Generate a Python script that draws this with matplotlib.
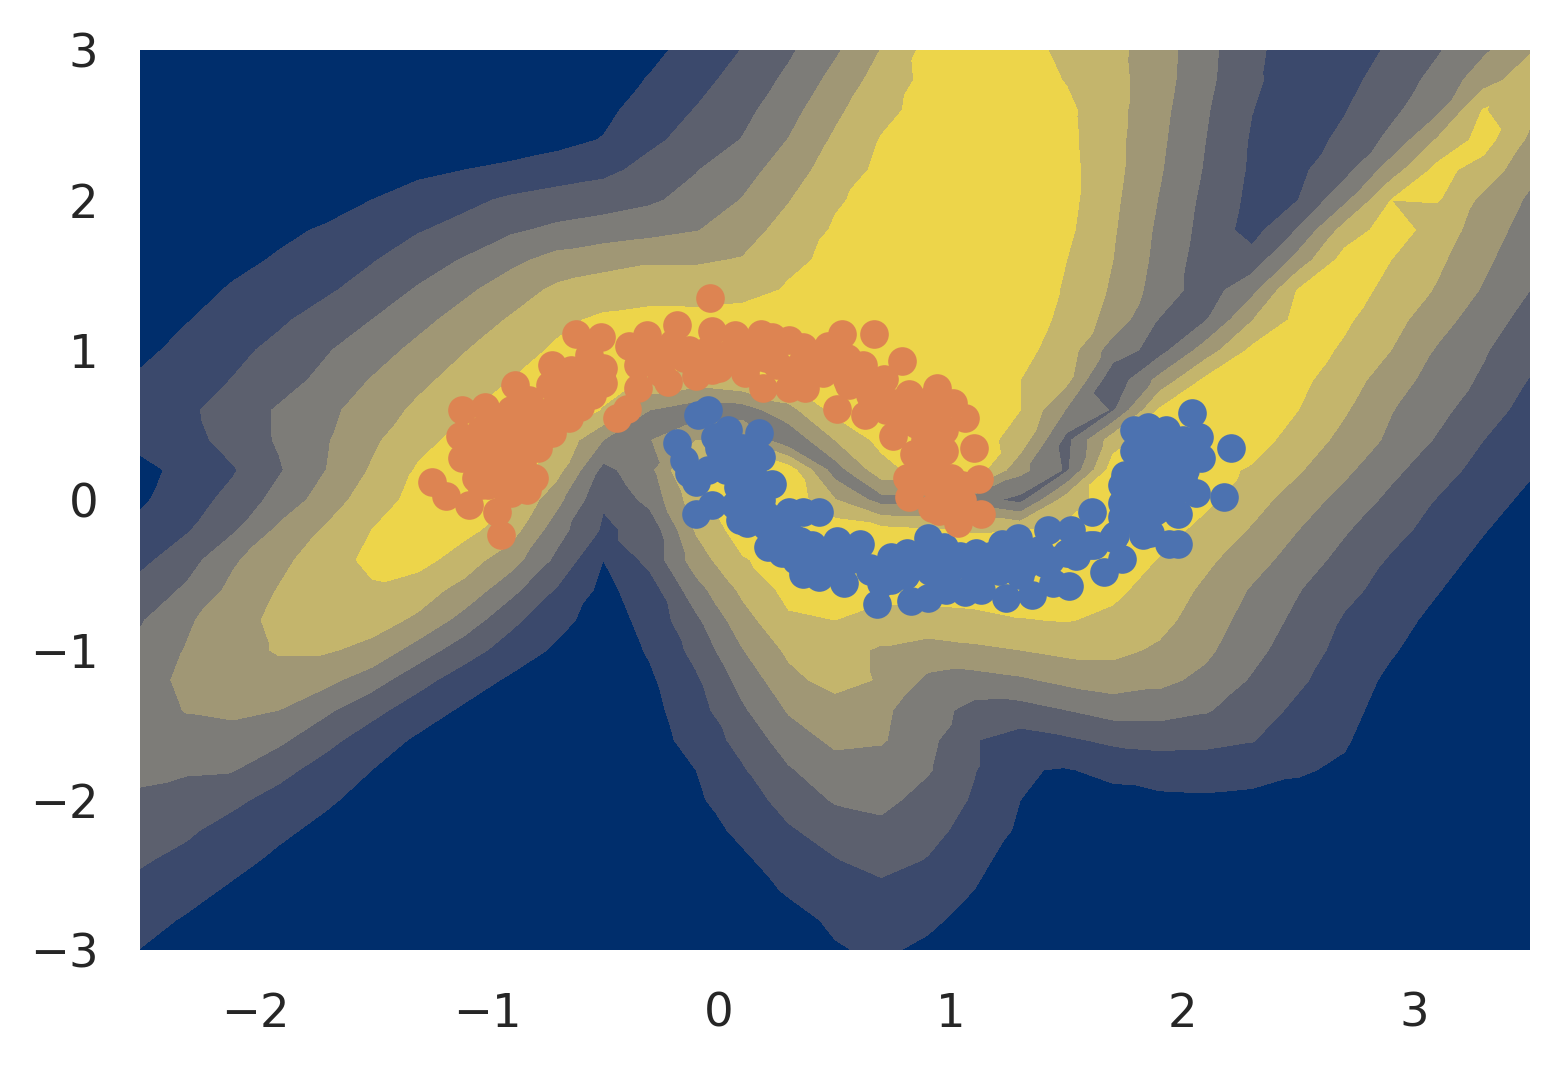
import numpy as np
import matplotlib
matplotlib.use("Agg")
import matplotlib.pyplot as plt
from matplotlib.tri import Triangulation

xticks = [-2, -1, 0, 1, 2, 3]
yticks = [-3, -2, -1, 0, 1, 2, 3]
levels = [0, 1, 2, 3, 4, 5, 6, 7]
band_colors = ['#002e6c', '#3b496c', '#5c606e', '#7d7c78', '#a09775', '#c4b56c', '#edd54a']
grid_x = [-2.5 + 0.2 * i for i in range(31)]
grid_y = [3.0 - 0.2 * i for i in range(31)]

field = [
 [.2,.2,.2,.2,.2,.2,.2,.2,.2,.2,.3,.73,1.38,2.03,2.84,3.84,5.03,6.3,6.6,6.3,5.8,5.27,4.47,3.3,2.22,1.5,1.4,2.16,2.9,3.83,4.9],
 [.2,.2,.2,.2,.2,.2,.2,.2,.2,.2,.5,1.07,1.68,2.37,3.21,4.31,5.42,6.25,6.5,6.4,5.95,5.32,4.42,3.25,2.15,1.55,1.7,2.45,3.3,4.55,5.6],
 [.2,.2,.2,.2,.2,.2,.2,.2,.2,.4,.75,1.45,2.04,2.7,3.63,4.77,5.75,6.3,6.6,6.5,6.2,5.33,4.3,3.1,2.02,1.5,1.95,2.75,3.75,6.05,5.3],
 [.2,.2,.2,.2,.2,.2,.2,.2,.4,.7,1.05,1.79,2.37,3.04,4.03,5.15,6.05,6.4,6.6,6.5,6.25,5.3,4.2,3.0,1.9,1.6,2.2,3.25,5.1,6.4,4.8],
 [.2,.2,.2,.2,.2,.5,.8,1.0,1.24,1.48,1.73,2.33,2.95,3.6,4.5,5.5,6.2,6.6,6.7,6.6,6.3,5.3,4.1,2.9,1.85,1.8,2.65,4.5,6.3,5.6,4.25],
 [.1,.1,.1,.3,.6,1.0,1.38,1.77,2.15,2.4,2.6,2.85,3.33,4.04,4.95,5.9,6.3,6.6,6.75,6.6,6.3,5.2,3.95,2.75,1.75,2.0,3.75,6.0,6.05,4.75,3.85],
 [.15,.15,.45,.8,1.1,1.55,1.93,2.3,2.85,3.2,3.4,3.65,3.94,4.57,5.38,6.1,6.4,6.6,6.8,6.65,6.2,5.1,3.8,2.65,1.6,3.1,5.4,6.5,5.55,4.5,3.55],
 [.2,.45,.75,1.1,1.5,1.93,2.5,3.08,3.75,4.35,4.7,4.9,4.9,5.05,5.8,6.2,6.5,6.7,6.8,6.5,6.0,5.0,3.7,2.5,2.4,4.4,6.4,6.0,5.2,4.2,3.3],
 [.3,.65,1.1,1.5,1.85,2.4,3.1,3.8,4.5,5.2,5.4,5.5,5.45,5.6,6.1,6.4,6.6,6.75,6.8,6.55,5.9,4.85,3.55,2.5,3.7,6.05,6.4,5.75,4.9,3.9,3.0],
 [.5,.95,1.4,1.85,2.4,3.0,3.7,4.4,5.1,5.75,6.2,6.4,6.4,6.5,6.6,6.7,6.8,6.8,6.8,6.5,5.75,4.6,2.95,2.95,4.95,6.3,6.15,5.35,4.4,3.45,2.63],
 [.75,1.3,1.75,2.25,2.9,3.55,4.25,4.95,5.55,6.15,6.5,6.6,6.6,6.6,6.7,6.8,6.85,6.85,6.8,6.3,5.5,3.5,2.6,4.45,6.2,6.5,5.85,5.0,3.9,3.1,2.27],
 [1.15,1.6,2.03,2.6,3.25,4.05,4.75,5.4,6.0,6.3,6.3,5.9,5.5,5.85,6.2,6.4,6.5,6.6,6.5,6.0,5.25,2.3,4.3,6.2,6.5,6.25,5.45,4.5,3.55,2.85,1.95],
 [1.35,1.8,2.45,3.1,3.75,4.45,5.2,5.9,6.4,6.5,5.95,4.0,3.4,3.5,4.65,6.3,6.6,6.6,6.4,6.0,3.9,2.9,6.1,6.5,6.5,6.0,5.1,4.05,3.3,2.4,1.66],
 [1.3,1.6,2.4,3.1,3.9,4.8,5.7,6.3,6.6,5.9,4.0,3.95,5.0,5.0,3.2,5.0,6.3,6.6,6.5,5.55,2.7,5.55,6.6,6.7,6.4,5.6,4.7,3.8,2.9,2.0,1.4],
 [.7,1.3,1.9,2.9,3.98,5.1,6.1,6.5,6.6,5.35,2.7,3.7,6.5,6.6,6.5,3.5,5.6,6.5,6.6,4.3,2.85,6.5,6.7,6.3,5.9,5.1,4.2,3.25,2.4,1.65,1.1],
 [.85,1.55,2.3,3.35,4.45,5.55,6.3,6.55,6.1,4.3,2.1,3.3,5.6,6.6,6.7,5.05,3.6,3.8,3.4,2.7,5.5,6.5,6.7,6.2,5.4,4.5,3.65,2.75,1.95,1.35,.8],
 [1.27,1.9,2.85,4.2,5.1,6.0,6.5,6.3,5.45,3.4,1.85,2.3,5.1,6.5,6.7,6.6,6.3,6.1,5.9,5.95,6.2,6.6,6.4,5.7,4.9,4.0,3.1,2.3,1.65,1.05,.5],
 [1.75,2.55,3.85,4.75,5.5,6.25,6.4,5.45,4.45,2.75,1.0,2.3,4.5,5.9,6.5,6.7,6.7,6.7,6.7,6.7,6.7,6.6,5.95,5.2,4.4,3.55,2.65,1.9,1.35,.75,.2],
 [2.35,3.15,4.25,5.05,5.6,5.85,5.4,4.7,3.3,1.9,.75,1.5,3.6,5.2,6.3,6.3,6.4,6.4,6.5,6.5,6.5,6.2,5.6,4.8,3.9,3.05,2.25,1.65,1.05,.5,.15],
 [2.9,3.85,4.6,5.25,5.4,5.35,4.85,3.6,2.25,1.3,.55,1.3,2.8,4.6,5.85,6.0,5.5,5.6,5.7,5.95,6.05,5.8,5.3,4.5,3.6,2.75,1.9,1.35,.75,.3,.1],
 [3.25,4.05,4.6,5.1,5.1,4.75,3.55,2.45,1.55,.85,.4,1.1,2.3,3.95,5.2,5.3,4.9,4.6,4.8,5.0,5.25,5.25,4.85,4.2,3.3,2.45,1.7,1.1,.5,.2,.1],
 [3.6,4.2,4.5,4.6,4.3,3.45,2.35,1.5,.85,.45,.2,.85,1.85,3.35,4.7,5.4,4.9,3.8,3.6,3.85,4.25,4.5,4.25,3.75,2.9,2.15,1.5,.8,.3,.1,.1],
 [3.5,4.05,4.2,4.0,3.2,2.3,1.5,.85,.5,.3,.1,.7,1.6,2.85,4.1,4.5,4.2,3.4,2.7,2.6,3.0,3.4,3.4,3.1,2.45,1.8,1.3,.6,.2,.1,.1],
 [3.4,3.6,3.6,3.2,2.3,1.5,.85,.5,.3,.1,.1,.55,1.4,2.3,3.5,4.2,4.1,3.3,2.05,1.6,1.85,2.2,2.3,2.25,2.05,1.45,1.1,.4,.1,.1,.1],
 [3.2,3.1,3.05,2.3,1.6,1.0,.6,.3,.1,.1,.1,.4,1.0,1.9,2.9,3.6,3.5,3.1,2.05,1.05,.95,1.2,1.45,1.45,1.4,1.1,.85,.3,.1,.1,.1],
 [2.85,2.6,2.2,1.65,1.15,.65,.35,.15,.1,.1,.1,.25,.85,1.55,2.35,3.1,3.3,2.6,1.9,1.0,.7,.75,.8,.85,.75,.7,.6,.2,.1,.1,.1],
 [2.45,2.15,1.65,1.2,.75,.4,.2,.1,.1,.1,.1,.15,.6,1.2,1.9,2.4,2.7,2.3,1.65,.85,.5,.3,.2,.1,.1,.1,.1,.1,.1,.1,.1],
 [2.1,1.75,1.3,.8,.45,.2,.1,.1,.1,.1,.1,.1,.35,.85,1.45,1.95,2.35,1.95,1.25,.6,.3,.1,.1,.1,.1,.1,.1,.1,.1,.1,.1],
 [1.75,1.35,.85,.5,.25,.1,.1,.1,.1,.1,.1,.1,.1,.6,1.1,1.5,1.75,1.5,1.0,.45,.15,.1,.1,.1,.1,.1,.1,.1,.1,.1,.1],
 [1.35,.9,.5,.25,.1,.1,.1,.1,.1,.1,.1,.1,.1,.2,.7,1.15,1.4,1.2,.65,.25,.1,.1,.1,.1,.1,.1,.1,.1,.1,.1,.1],
 [.98,.55,.25,.1,.1,.1,.1,.1,.1,.1,.1,.1,.1,.1,.3,.92,1.15,.8,.35,.1,.1,.1,.1,.1,.1,.1,.1,.1,.1,.1,.1],
]

blue_x = [-.05,-.09,-.18,.04,.17,.18,.23,-.10,-.03,-.10,-.13,-.15,.09,.12,.08,.43,.36,.30,.21,.27,.36,.43,.51,.61,.54,.68,.74,.81,.83,.90,.90,.98,.97,1.11,1.24,1.35,1.06,1.13,1.29,1.22,1.42,1.52,1.61,1.66,1.74,1.83,1.51,1.44,1.79,1.79,1.75,1.74,1.74,1.74,1.85,1.93,2.04,2.07,2.08,2.21,2.18,2.06,1.98,1.94,1.98,1.86,
          .0,.05,.1,-.05,-.02,.1,.15,.18,.2,.25,.32,.4,.45,.55,.65,.7,.8,.9,1.0,1.1,1.2,1.3,1.4,1.5,1.6,1.7,1.8,1.85,1.9,1.95,1.88,1.85,2.0,1.95,1.8,1.9,2.0,1.9,.33,.12,
          .03,.11,.07,.15,.2,.28,.35,.41,.46,.56,.65,.74,.8,.91,1.02,1.1,1.21,1.32,1.43,1.54,1.62,1.71,1.79,1.84,1.9,1.86,1.99,1.97,1.88,1.77,1.82,1.92,2.01,1.38,1.28,1.17,1.04,.91]
blue_y = [.60,.57,.38,.47,.45,.29,.11,-.09,-.03,.12,.18,.27,-.13,.07,.09,-.08,-.08,-.08,-.31,-.35,-.49,-.51,-.27,-.29,-.55,-.69,-.38,-.35,-.67,-.25,-.65,-.60,-.31,-.35,-.65,-.63,-.61,-.60,-.25,-.29,-.20,-.20,-.08,-.48,-.39,-.23,-.57,-.55,.47,.33,.17,.10,-.02,-.11,.49,.47,.58,.42,.28,.35,.02,.05,-.09,-.29,-.29,-.22,
          .35,.25,.35,.2,.42,.2,.15,.0,-.1,-.2,-.25,-.3,-.4,-.4,-.45,-.55,-.5,-.45,-.45,-.48,-.45,-.5,-.42,-.35,-.3,-.25,-.1,.05,.2,.35,.35,.18,.15,.05,.1,-.05,.4,.45,-.4,-.15,
          .2,.30,-.03,-.07,-.17,-.2,-.27,-.33,-.43,-.4,-.47,-.53,-.5,-.47,-.43,-.47,-.47,-.43,-.4,-.37,-.3,-.23,-.13,.03,.17,.33,.37,.07,-.07,.07,.2,.3,.2,-.33,-.37,-.37,-.37,-.37]

orange_x = [-.04,-.62,-.51,-.39,-.31,-.18,-.03,-.72,-.88,-1.01,-1.11,-1.12,-1.11,-1.24,-1.18,-1.08,-.96,-.94,-.83,-.35,-.40,-.44,-.22,-.10,-.03,.07,.18,.23,.30,.36,.53,.67,.47,.79,.62,.71,.82,.94,1.01,1.06,1.10,.51,.63,.19,.30,.37,.11,.75,.84,.81,.82,1.12,1.13,1.03,.92,.97,1.0,.85,
            -.95,-1.0,-.9,-.95,-.85,-.8,-.88,-.75,-.7,-.8,-.65,-.6,-.55,-.65,-1.05,-.9,-1.0,-1.05,-.9,-.78,-.72,-.6,-.5,-.5,-.35,-.25,-.15,-.05,.05,.15,.25,.35,.45,.55,.65,.75,.85,.9,.95,.9,.95,1.05,.1,-.25,-.2,-.1,.0,-.55,-.7,-.85,.2,.4,.55,.72,.95,1.0,1.05,
            -1.03,-.97,-.90,-.82,-.73,-.64,-.56,-.51,-.60,-.69,-.77,-.86,-.95,-1.03,-.97,-.88,-1.03,-.92,-.86,-.67,-.34,-.26,-.13,.03,.13,.24,.35,.46,.56,.65,.74,.80,.91,.89,.93,.89,1.02,.95,1.04,.91,.97]
orange_y = [1.35,1.11,1.09,1.03,1.10,1.17,1.13,.90,.77,.62,.60,.43,.28,.12,.03,-.03,-.08,-.23,.07,.75,.61,.55,.79,.83,.87,1.10,1.11,1.09,1.07,1.02,1.11,1.11,1.03,.93,.90,.81,.71,.75,.65,.55,.35,.61,.57,.75,.75,.75,.85,.43,.31,.15,.02,.14,-.09,-.15,-.05,.33,.15,.51,
            .5,.4,.35,.2,.25,.15,.45,.55,.65,.6,.7,.8,.85,.55,.15,.05,.1,.3,.15,.35,.45,.62,.78,.88,.9,.95,.95,1.0,.95,.95,.9,.85,.85,.8,.75,.65,.6,.45,.5,.2,.05,.0,1.0,.85,1.05,.9,.88,.7,.75,.6,.95,.92,.95,.6,.62,-.05,.1,
            .47,.53,.60,.67,.77,.87,.97,.83,.70,.60,.50,.40,.33,.27,.17,.23,.10,.07,.53,.73,.93,1.0,1.0,.97,1.0,.93,.90,.87,.77,.70,.63,.53,.53,.40,.23,.13,.03,-.07,-.03,.67,.47]

fig = plt.figure(figsize=(1562 / 250, 1068 / 250), dpi=250)
ax = fig.add_axes([140 / 1562, (1068 - 950) / 1068, 1390 / 1562, 900 / 1068])

# split every grid cell along the diagonal whose two ends agree best, so that
# narrow ridges and valleys of the field stay connected
z = np.array(field)
ny, nx = z.shape
gx, gy = np.meshgrid(grid_x, grid_y)
triangles = []
for r in range(ny - 1):
    for c in range(nx - 1):
        a, b = r * nx + c, r * nx + c + 1
        d, e = (r + 1) * nx + c, (r + 1) * nx + c + 1
        if abs(z[r, c] - z[r + 1, c + 1]) <= abs(z[r, c + 1] - z[r + 1, c]):
            triangles += [[a, b, e], [a, e, d]]
        else:
            triangles += [[a, b, d], [b, e, d]]
tri = Triangulation(gx.ravel(), gy.ravel(), triangles)
ax.tricontourf(tri, z.ravel(), levels=levels, colors=band_colors)

ax.scatter(blue_x, blue_y, s=68, color='#4c72b0', linewidths=0, zorder=3)
ax.scatter(orange_x, orange_y, s=68, color='#dd8452', linewidths=0, zorder=4)
ax.set_xlim(-2.5, 3.5)
ax.set_ylim(-3, 3)
ax.set_xticks(xticks)
ax.set_yticks(yticks)
ax.tick_params(length=0, labelsize=13.4, colors='#262626', pad=12)
for s in ax.spines.values():
    s.set_visible(False)
fig.savefig('out.png', dpi=250, facecolor='white')
